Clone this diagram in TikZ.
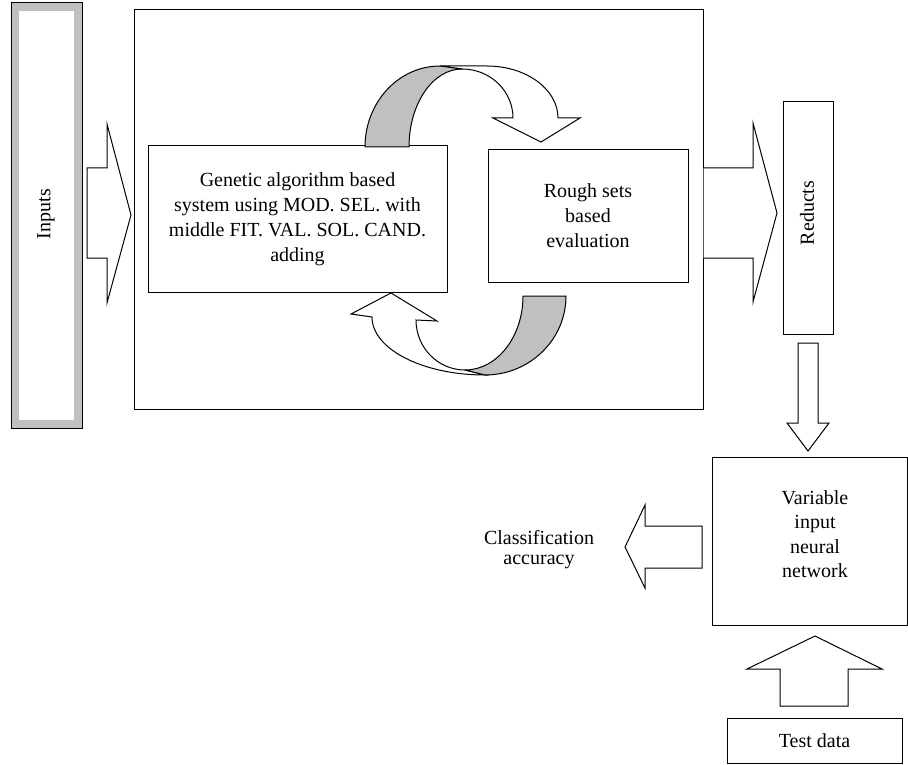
\documentclass[tikz,border=0pt]{standalone}
\usepackage{fontspec}
\setmainfont{Liberation Serif}
\definecolor{bandgray}{HTML}{C0C0C0}
\tikzset{
  box/.style={draw=black, line width=1pt, fill=white, inner sep=0pt, align=center,
    font=\fontsize{20}{25}\selectfont},
  lbl/.style={inner sep=0pt, align=center, font=\fontsize{20}{24.5}\selectfont},
  blockarrow/.style={draw=black, line width=1pt, fill=white, line join=miter},
  band/.style={draw=black, line width=1pt, fill=bandgray, line join=round},
  curvearrow/.style={draw=black, line width=1pt, fill=white, line join=miter},
}
\begin{document}
\begin{tikzpicture}[x=1pt,y=-1pt]
\useasboundingbox (0,0) rectangle (908,765);

% main frame
\node[box, minimum width=569, minimum height=399] (main) at (418.5,209.5) {};

% Inputs
\node[draw=black, line width=1pt, fill=bandgray, inner sep=0pt,
      minimum width=71, minimum height=425] (inputs) at (46.5,215.5) {};
\node[fill=white, inner sep=0pt, minimum width=55, minimum height=409] (inputsin) at (46.5,215.5) {};
\node[lbl, rotate=90] (inputstxt) at (46,214) {Inputs};

% inner boxes
\node[box, minimum width=299, minimum height=146] (ga) at (297.5,219)
  {Genetic algorithm based\\system using MOD. SEL. with\\middle FIT. VAL. SOL. CAND.\\adding};
\node[box, minimum width=200, minimum height=132] (rs) at (588,216)
  {Rough sets\\based\\evaluation};

% Reducts
\node[box, minimum width=50, minimum height=232] (reducts) at (808,218) {};
\node[lbl, rotate=90] (reductstxt) at (807,213) {Reducts};

% VINN
\node[box, minimum width=195, minimum height=168] (vinn) at (809.5,541) {};
\node[lbl] (vinntxt) at (815,534) {Variable\\input\\neural\\network};

% Test data
\node[box, minimum width=175, minimum height=45] (test) at (814.5,740.5) {Test data};

% Classification accuracy
\node[lbl, font=\fontsize{20}{20}\selectfont] (acc) at (539,550) {Classification\\accuracy};

% block arrows
\draw[blockarrow] (87,168) -- (107,168) -- (107,124) -- (131,215) -- (107,303) -- (107,258) -- (87,258) -- cycle;
\draw[blockarrow] (main.east |- 0,168) -- (753,168) -- (753,123) -- (777,213) -- (753,302) -- (753,258) -- (main.east |- 0,258);
\draw[blockarrow] (798,343) -- (818,343) -- (818,423) -- (829,423) -- (808,451) -- (787,423) -- (798,423) -- cycle;
\draw[blockarrow] (702,526) -- (645,526) -- (645,505) -- (625,547) -- (645,588) -- (645,568) -- (702,568) -- cycle;
\draw[blockarrow] (780,706) -- (780,669) -- (747,669) -- (815,636) -- (882,669) -- (848,669) -- (848,706) -- cycle;

% top curved arrow
\coordinate (tA) at (365,147);
\coordinate (tB) at (440,66);
\coordinate (tC) at (409,147);
\coordinate (tD) at (462,69);
\coordinate (tE) at (487,66);
\coordinate (tG) at (558,118);
\coordinate (tF) at (513,118);
\draw[curvearrow] (tB) -- (tE) .. controls (526.2,66) and (558,89.3) .. (tG)
  -- (580,118) -- (541,142) -- (493,118) -- (tF)
  .. controls (513,90.9) and (490.2,69) .. (tD) -- cycle;
\draw[band] (tA) .. controls (365,102.3) and (398.6,66) .. (tB) -- (tD)
  .. controls (432.7,69) and (409,103.9) .. (tC) -- cycle;

% bottom curved arrow
\coordinate (bA) at (523,296);
\coordinate (bB) at (566,296);
\coordinate (bC) at (485,375);
\coordinate (bD) at (465,370);
\coordinate (bE) at (372,317);
\coordinate (bF) at (416,320);
\draw[curvearrow] (bC) .. controls (422.6,375) and (372,349) .. (bE)
  -- (351,314) -- (391,293) -- (437,321) -- (bF)
  .. controls (416,347.6) and (437.9,370) .. (bD) -- cycle;
\draw[band] (bA) -- (bB) .. controls (566,339.6) and (529.7,375) .. (bC) -- (bD)
  .. controls (497,370) and (523,336.9) .. (bA) -- cycle;
\end{tikzpicture}
\end{document}
